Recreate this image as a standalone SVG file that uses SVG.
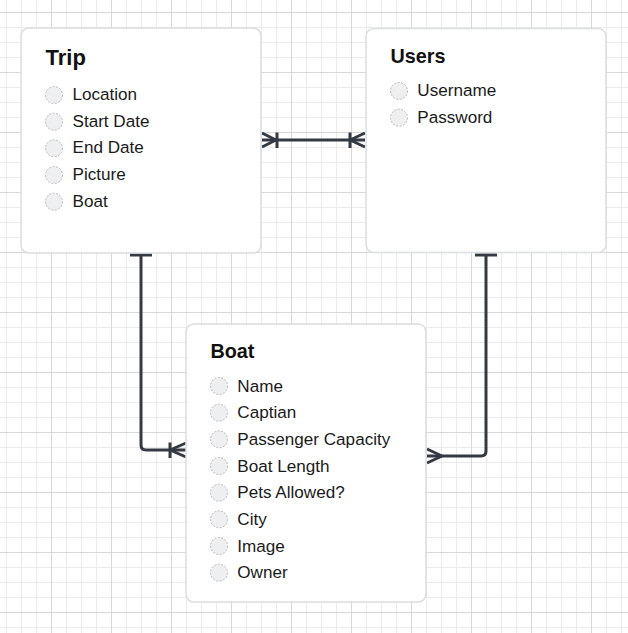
<svg xmlns="http://www.w3.org/2000/svg" width="628" height="633" viewBox="0 0 628 633">
<style>
.box{fill:#ffffff;stroke:#dadde1;stroke-width:1.5}
.title{font-family:"Liberation Sans",Arial,sans-serif;font-weight:bold;fill:#111111}
.item{font-family:"Liberation Sans",Arial,sans-serif;font-size:17.1px;fill:#1a1a1a}
.dot{fill:#eeeff1;stroke:#b8b8b8;stroke-width:1;stroke-dasharray:2 1.5}
.conn{fill:none;stroke:#343a43;stroke-width:3;stroke-linejoin:round}
</style>
<defs>
<pattern id="grid" x="-9" y="12" width="60" height="60" patternUnits="userSpaceOnUse">
<rect x="15" y="0" width="1" height="60" fill="#ebebeb"/>
<rect x="30" y="0" width="1" height="60" fill="#ebebeb"/>
<rect x="45" y="0" width="1" height="60" fill="#ebebeb"/>
<rect x="0" y="15" width="60" height="1" fill="#ebebeb"/>
<rect x="0" y="30" width="60" height="1" fill="#ebebeb"/>
<rect x="0" y="45" width="60" height="1" fill="#ebebeb"/>
<rect x="0" y="0" width="1" height="60" fill="#d8d8d8"/>
<rect x="0" y="0" width="60" height="1" fill="#d8d8d8"/>
</pattern>
</defs>
<rect x="0" y="0" width="628" height="633" fill="#ffffff"/>
<rect x="0" y="0" width="628" height="633" fill="url(#grid)"/>

<g id="connectors">
<g id="trip-users">
<path class="conn" d="M262,140 H365"/>
<path class="conn" d="M262,133 L276,140 L262,147"/>
<path class="conn" d="M277,132.5 V148"/>
<path class="conn" d="M350,132.5 V148"/>
<path class="conn" d="M365,133 L350,140 L365,147"/>
</g>
<g id="trip-boat">
<path class="conn" d="M141,254 V445 Q141,450 146,450 H186"/>
<path class="conn" d="M130,255 H152"/>
<path class="conn" d="M170,442.5 V458"/>
<path class="conn" d="M186,443 L170,450 L186,457"/>
</g>
<g id="users-boat">
<path class="conn" d="M486,254 V451 Q486,456 481,456 H427"/>
<path class="conn" d="M475,255 H497"/>
<path class="conn" d="M427,449 L442,456 L427,463"/>
</g>
</g>

<g id="trip">
<rect class="box" x="21" y="28" width="240" height="225" rx="8"/>
<text class="title" x="45.5" y="65" font-size="22">Trip</text>
<circle class="dot" cx="54" cy="95" r="8.5"/>
<text class="item" x="72.5" y="100">Location</text>
<circle class="dot" cx="54" cy="121.7" r="8.5"/>
<text class="item" x="72.5" y="126.7">Start Date</text>
<circle class="dot" cx="54" cy="148.3" r="8.5"/>
<text class="item" x="72.5" y="153.3">End Date</text>
<circle class="dot" cx="54" cy="175" r="8.5"/>
<text class="item" x="72.5" y="180">Picture</text>
<circle class="dot" cx="54" cy="201.7" r="8.5"/>
<text class="item" x="72.5" y="206.7">Boat</text>
</g>

<g id="users">
<rect class="box" x="366" y="28.5" width="240" height="224" rx="8"/>
<text class="title" x="390.5" y="62.7" font-size="19.8">Users</text>
<circle class="dot" cx="399" cy="91" r="8.5"/>
<text class="item" x="417.3" y="96">Username</text>
<circle class="dot" cx="399" cy="117.7" r="8.5"/>
<text class="item" x="417.3" y="122.7">Password</text>
</g>

<g id="boat">
<rect class="box" x="186" y="324" width="240" height="278" rx="8"/>
<text class="title" x="210.5" y="358.3" font-size="19.8">Boat</text>
<circle class="dot" cx="219" cy="386" r="8.5"/>
<text class="item" x="237.3" y="391.7">Name</text>
<circle class="dot" cx="219" cy="412.7" r="8.5"/>
<text class="item" x="237.3" y="418.3">Captian</text>
<circle class="dot" cx="219" cy="439.3" r="8.5"/>
<text class="item" x="237.3" y="445">Passenger Capacity</text>
<circle class="dot" cx="219" cy="466" r="8.5"/>
<text class="item" x="237.3" y="471.7">Boat Length</text>
<circle class="dot" cx="219" cy="492.7" r="8.5"/>
<text class="item" x="237.3" y="498.3">Pets Allowed?</text>
<circle class="dot" cx="219" cy="519.3" r="8.5"/>
<text class="item" x="237.3" y="525">City</text>
<circle class="dot" cx="219" cy="546" r="8.5"/>
<text class="item" x="237.3" y="551.7">Image</text>
<circle class="dot" cx="219" cy="572.7" r="8.5"/>
<text class="item" x="237.3" y="578.3">Owner</text>
</g>
</svg>
